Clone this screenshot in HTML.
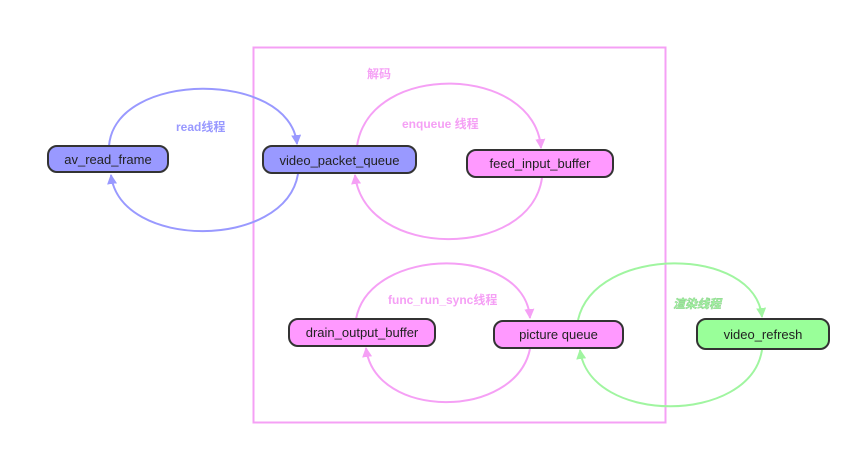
<!DOCTYPE html>
<html><head><meta charset="utf-8"><style>
html,body{margin:0;padding:0;background:#fff;width:859px;height:455px;overflow:hidden}
text{font-family:"Liberation Sans","Noto Sans CJK SC",sans-serif}
</style></head><body>
<svg width="859" height="455" viewBox="0 0 859 455" xmlns="http://www.w3.org/2000/svg">
<defs>
<marker id="mb" markerWidth="12" markerHeight="12" refX="9" refY="5" orient="auto" markerUnits="userSpaceOnUse"><path d="M0,0 L10,5 L0,10 z" fill="#9999ff"/></marker>
<marker id="mp" markerWidth="12" markerHeight="12" refX="9" refY="5" orient="auto" markerUnits="userSpaceOnUse"><path d="M0,0 L10,5 L0,10 z" fill="#f5a0f5"/></marker>
<marker id="mg" markerWidth="12" markerHeight="12" refX="9" refY="5" orient="auto" markerUnits="userSpaceOnUse"><path d="M0,0 L10,5 L0,10 z" fill="#a0f5a0"/></marker>
</defs>
<rect x="253.5" y="47.5" width="412" height="375" fill="none" stroke="#f5a0f5" stroke-width="2"/>
<g fill="none" stroke-width="2">
<path d="M109,146 C115,70 290,70 297,144" stroke="#9999ff" marker-end="url(#mb)"/>
<path d="M298,174 C285,250 120,250 111,175" stroke="#9999ff" marker-end="url(#mb)"/>
<path d="M357,146 C370,60 535,65 541,148" stroke="#f5a0f5" marker-end="url(#mp)"/>
<path d="M542,178 C530,260 365,260 355,175" stroke="#f5a0f5" marker-end="url(#mp)"/>
<path d="M356,319 C370,245 525,245 530,318" stroke="#f5a0f5" marker-end="url(#mp)"/>
<path d="M530,349 C515,420 375,420 366,348" stroke="#f5a0f5" marker-end="url(#mp)"/>
<path d="M578,320 C595,245 755,245 762,317" stroke="#a0f5a0" marker-end="url(#mg)"/>
<path d="M762,350 C750,425 590,425 580,350" stroke="#a0f5a0" marker-end="url(#mg)"/>
</g>
<g stroke="#333" stroke-width="2">
<rect x="48" y="146" width="120" height="26" rx="9" fill="#9999ff"/>
<rect x="263" y="146" width="153" height="27" rx="9" fill="#9999ff"/>
<rect x="467" y="150" width="146" height="27" rx="9" fill="#ff99ff"/>
<rect x="289" y="319" width="146" height="27" rx="9" fill="#ff99ff"/>
<rect x="494" y="321" width="129" height="27" rx="9" fill="#ff99ff"/>
<rect x="697" y="319" width="132" height="30" rx="9" fill="#99ff99"/>
</g>
<g font-size="13" fill="#222" text-anchor="middle">
<text x="108" y="164">av_read_frame</text>
<text x="339.5" y="165">video_packet_queue</text>
<text x="540" y="168">feed_input_buffer</text>
<text x="362" y="337">drain_output_buffer</text>
<text x="558.5" y="339">picture queue</text>
<text x="763" y="339">video_refresh</text>
</g>
<g font-size="12" font-weight="bold">
<text x="176" y="131" fill="#9999ff">read线程</text>
<text x="367" y="78" fill="#f5a0f5">解码</text>
<text x="402" y="128" fill="#f5a0f5">enqueue 线程</text>
<text x="388" y="304" fill="#f5a0f5">func_run_sync线程</text>
<text x="673" y="308" fill="#a0f5a0" font-style="italic" stroke="#8c8" stroke-width="0.4">渲染线程</text>
</g>
</svg>
</body></html>
